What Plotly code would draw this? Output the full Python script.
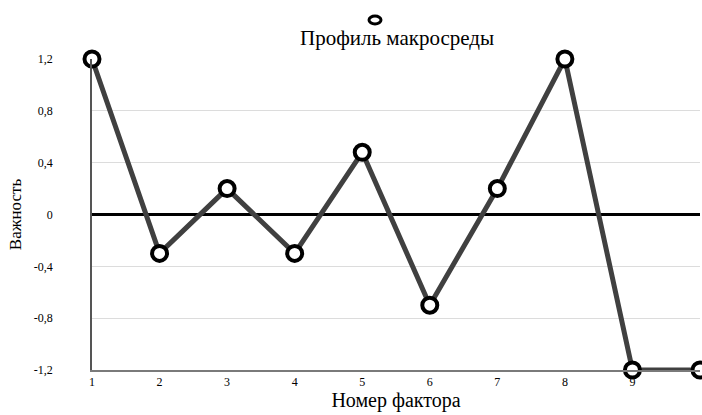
import plotly.graph_objects as go

factors = [1, 2, 3, 4, 5, 6, 7, 8, 9, 10]
importance = [1.2, -0.3, 0.2, -0.3, 0.48, -0.7, 0.2, 1.2, -1.2, -1.2]
y_ticks = [-1.2, -0.8, -0.4, 0, 0.4, 0.8, 1.2]
y_tick_labels = ["-1,2", "-0,8", "-0,4", "0", "0,4", "0,8", "1,2"]

FONT = "Liberation Serif, Times New Roman, serif"
L, R, T, B = 92, 2, 59, 45
W, H = 702, 415
PW, PH = W - L - R, H - T - B

fig = go.Figure()
fig.add_trace(go.Scatter(
    x=factors, y=importance, mode="lines+markers",
    line=dict(color="#404040", width=5),
    marker=dict(size=15, color="white", line=dict(color="black", width=4)),
    showlegend=False, cliponaxis=False,
))

# legend symbol (open circle) above the title
lx = (375 - L) / PW
ly = 1 + (T - 20) / PH
fig.add_shape(type="circle", xref="paper", yref="paper", xsizemode="pixel", ysizemode="pixel",
              xanchor=lx, yanchor=ly, x0=-6, x1=6, y0=-4, y1=4,
              line=dict(color="black", width=3), fillcolor="white")

fig.update_layout(
    width=W, height=H,
    margin=dict(l=L, r=R, t=T, b=B, autoexpand=False),
    paper_bgcolor="white", plot_bgcolor="white",
    font=dict(family=FONT, color="black", size=12),
    showlegend=False,
    annotations=[dict(text="Профиль макросреды", x=(397 - L) / PW, xref="paper",
                      y=1 + (T - 38) / PH, yref="paper", yanchor="middle", xanchor="center",
                      showarrow=False,
                      font=dict(family=FONT, size=21, color="black"))],
    xaxis=dict(
        range=[1, 10], tickvals=factors, ticktext=[str(v) for v in factors],
        showgrid=False, zeroline=False, automargin=False,
        showline=True, linecolor="#7a7a7a", linewidth=2,
        tickfont=dict(family=FONT, size=12, color="black"), ticks="",
        title=dict(text="Номер фактора", font=dict(family=FONT, size=20), standoff=3),
    ),
    yaxis=dict(
        range=[-1.2, 1.2], tickvals=y_ticks, ticktext=y_tick_labels,
        showgrid=True, gridcolor="#dcdcdc", gridwidth=1, automargin=False,
        zeroline=True, zerolinecolor="black", zerolinewidth=3,
        showline=True, linecolor="#555555", linewidth=1.5,
        tickfont=dict(family=FONT, size=12, color="black"), ticks="", ticklabelstandoff=35,
        title=dict(text="Важность", font=dict(family=FONT, size=17), standoff=8),
    ),
)
fig.write_html("out.html", config={"displayModeBar": False},
               post_script="document.body.style.margin='0';")
